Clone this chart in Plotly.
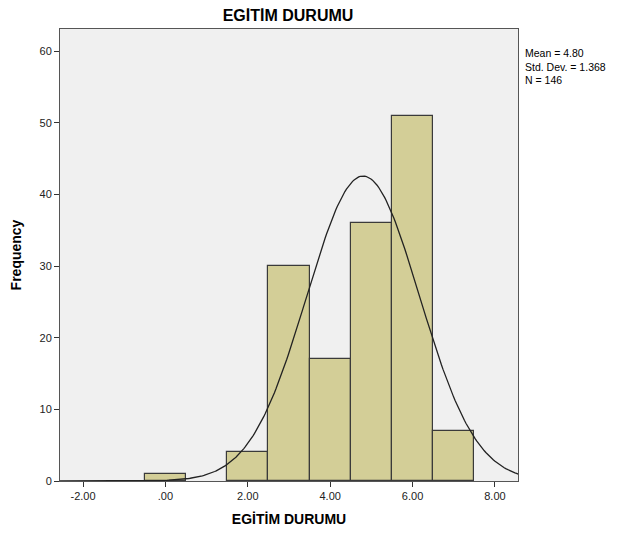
import numpy as np
import plotly.graph_objects as go

# histogram bins (centre, count)
bin_centers = [0, 2, 3, 4, 5, 6, 7]
counts = [1, 4, 30, 17, 36, 51, 7]

# summary shown in the legend box
mean = 4.80
std_dev = 1.368
n = 146
bin_width = 1.0

tick_vals = [-2, 0, 2, 4, 6, 8]
tick_text = ["-2.00", ".00", "2.00", "4.00", "6.00", "8.00"]

# fitted normal curve, scaled to the counts
curve_x = np.linspace(-2.56, 8.56, 300)
curve_y = n * bin_width / (std_dev * np.sqrt(2 * np.pi)) * np.exp(-0.5 * ((curve_x - mean) / std_dev) ** 2)

fig = go.Figure()
fig.add_trace(go.Bar(
    x=bin_centers,
    y=counts,
    width=bin_width,
    marker=dict(color="#D3CE97", line=dict(color="#3a3a3a", width=1.2)),
))
fig.add_trace(go.Scatter(
    x=curve_x,
    y=curve_y,
    mode="lines",
    line=dict(color="#222222", width=1.3),
))

# page body adds an 8px margin, so the figure is a little smaller
fig.update_layout(
    width=616,
    height=526,
    margin=dict(l=52, r=106, t=21, b=53),
    paper_bgcolor="white",
    plot_bgcolor="#F0F0F0",
    showlegend=False,
    font=dict(family="Liberation Sans, Arial", color="#222222", size=11),
    title=dict(
        text="<b>EGİTİM DURUMU</b>",
        x=280 / 616,
        xanchor="center",
        y=1 - 7 / 526,
        yanchor="middle",
        font=dict(size=16, color="black"),
    ),
    bargap=0,
)

fig.update_xaxes(
    range=[-2.56, 8.56],
    tickvals=tick_vals,
    ticktext=tick_text,
    ticks="outside",
    ticklen=5,
    tickcolor="#333333",
    showgrid=False,
    zeroline=False,
    showline=True,
    linecolor="#555555",
    mirror=True,
    automargin=False,
    title=dict(text="<b>EGİTİM DURUMU</b>", font=dict(size=14, color="black"), standoff=12),
)
fig.update_yaxes(
    range=[0, 63.1],
    tickvals=[0, 10, 20, 30, 40, 50, 60],
    ticks="outside",
    ticklen=5,
    tickcolor="#333333",
    showgrid=False,
    zeroline=False,
    showline=True,
    linecolor="#555555",
    mirror=True,
    automargin=False,
    title=dict(text="<b>Frequency</b>", font=dict(size=14, color="black"), standoff=16),
)

fig.add_annotation(
    x=1.0, xref="paper", xanchor="left", xshift=5,
    y=60.9, yref="y", yanchor="top",
    text=f"Mean = {mean:.2f}<br>Std. Dev. = {std_dev:.3f}<br>N = {n}",
    showarrow=False,
    align="left",
    font=dict(size=10.5, color="black"),
)

fig.write_html("out.html")
